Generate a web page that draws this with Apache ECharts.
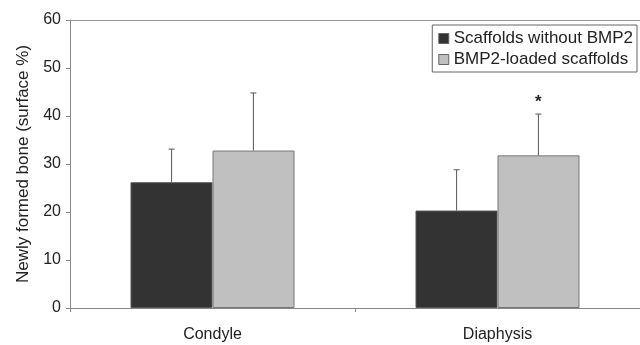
<!DOCTYPE html>
<html>
<head>
<meta charset="utf-8">
<script src="https://cdn.jsdelivr.net/npm/echarts@6/dist/echarts.min.js"></script>
<style>
  html, body { margin: 0; padding: 0; background: #fff; }
  #chart { width: 640px; height: 345px; }
</style>
</head>
<body>
<div id="chart"></div>
<script>
// Newly formed bone, mean + SD
var categories = ['Condyle', 'Diaphysis'];
var withoutBmp2 = [26.2, 20.3];
var withoutBmp2Err = [33.1, 28.8];
var bmp2Loaded = [32.8, 31.8];
var bmp2LoadedErr = [44.8, 40.4];
var significant = ['', '*'];

var chart = echarts.init(document.getElementById('chart'));

// upper error whisker, drawn from bar top to mean+SD
function errorBar(seriesIdx) {
    return function (params, api) {
        var ci = api.value(0);
        var top = api.coord([ci, api.value(2)]);
        var base = api.coord([ci, api.value(1)]);
        var bw = api.size([1, 0])[0] * 0.287;
        var x = top[0] + (seriesIdx === 0 ? -bw / 2 : bw / 2);
        var children = [
            { type: 'line', shape: { x1: x, y1: base[1], x2: x, y2: top[1] }, style: { stroke: '#555', lineWidth: 1 } },
            { type: 'line', shape: { x1: x - 3, y1: top[1], x2: x + 3, y2: top[1] }, style: { stroke: '#555', lineWidth: 1 } }
        ];
        if (seriesIdx === 1 && significant[ci]) {
            children.push({ type: 'text', x: x, y: top[1] - 3, style: { text: significant[ci], fill: '#222', font: 'bold 17px Arial', align: 'center', verticalAlign: 'bottom' } });
        }
        return { type: 'group', children: children };
    };
}

var option = {
    animation: false,
    grid: { left: 70, right: -2, top: 20, bottom: 37 },
    legend: {
        right: 3, top: 25,
        orient: 'vertical',
        icon: 'rect',
        itemWidth: 10, itemHeight: 10, itemGap: 4,
        padding: [5, 4, 4, 6],
        borderColor: '#666', borderWidth: 1,
        textStyle: { fontFamily: 'Arial', fontSize: 17, color: '#222' },
        data: [
            { name: 'Scaffolds without BMP2', itemStyle: { color: '#333', borderColor: '#666', borderWidth: 1 } },
            { name: 'BMP2-loaded scaffolds', itemStyle: { color: '#c0c0c0', borderColor: '#666', borderWidth: 1 } }
        ]
    },
    xAxis: {
        type: 'category',
        data: categories,
        axisLine: { lineStyle: { color: '#888' } },
        axisTick: { show: true, length: 4, lineStyle: { color: '#888' } },
        axisLabel: { color: '#222', fontFamily: 'Arial', fontSize: 16, margin: 19 }
    },
    yAxis: {
        type: 'value',
        min: 0, max: 60, interval: 10,
        name: 'Newly formed bone (surface %)',
        nameLocation: 'middle',
        nameGap: 37,
        nameTextStyle: { color: '#222', fontFamily: 'Arial', fontSize: 17 },
        axisLine: { show: true, lineStyle: { color: '#888' } },
        axisTick: { show: true, length: 4, lineStyle: { color: '#888' } },
        axisLabel: { color: '#222', fontFamily: 'Arial', fontSize: 16, margin: 9 },
        splitLine: { show: false }
    },
    series: [
        {
            name: 'Scaffolds without BMP2', type: 'bar', data: withoutBmp2,
            barWidth: 82, barGap: '0%',
            itemStyle: { color: '#333', borderColor: '#555', borderWidth: 1 }
        },
        {
            name: 'BMP2-loaded scaffolds', type: 'bar', data: bmp2Loaded,
            barWidth: 82,
            itemStyle: { color: '#c0c0c0', borderColor: '#777', borderWidth: 1 },
            markLine: {
                silent: true, symbol: 'none', label: { show: false },
                lineStyle: { color: '#999', type: 'solid', width: 1 },
                data: [{ yAxis: 60 }]
            }
        },
        {
            type: 'custom', renderItem: errorBar(0), z: 3,
            data: categories.map(function (c, i) { return [i, withoutBmp2[i], withoutBmp2Err[i]]; })
        },
        {
            type: 'custom', renderItem: errorBar(1), z: 3,
            data: categories.map(function (c, i) { return [i, bmp2Loaded[i], bmp2LoadedErr[i]]; })
        }
    ]
};

chart.setOption(option);
</script>
</body>
</html>
